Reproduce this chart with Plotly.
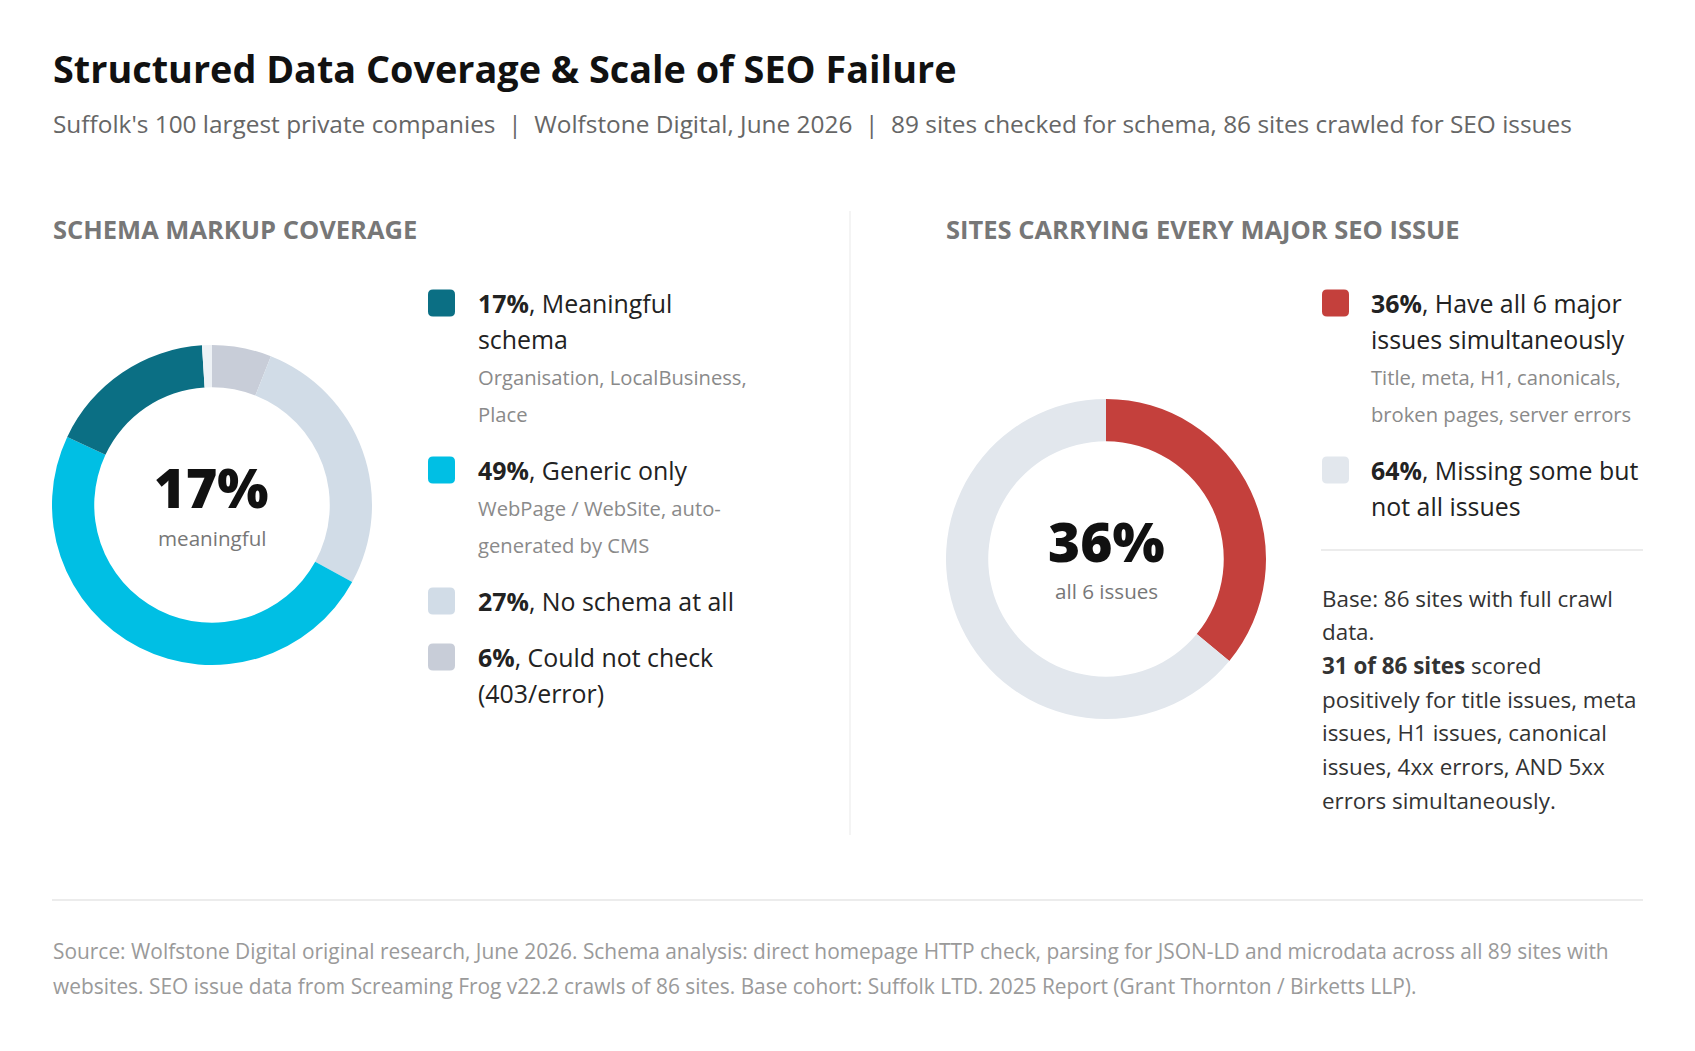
import plotly.graph_objects as go

# --- data -------------------------------------------------------------
title = "Structured Data Coverage & Scale of SEO Failure"
subtitle = ("Suffolk's 100 largest private companies  |  Wolfstone Digital, June 2026"
            "  |  89 sites checked for schema, 86 sites crawled for SEO issues")

schema_header = "SCHEMA MARKUP COVERAGE"
schema_pct = [17, 49, 27, 6]
schema_lines = [["Meaningful", "schema"], ["Generic only"], ["No schema at all"],
                ["Could not check", "(403/error)"]]
schema_notes = [["Organisation, LocalBusiness,", "Place"],
                ["WebPage / WebSite, auto-", "generated by CMS"], [], []]
schema_colors = ["#0b6f84", "#00bfe4", "#d1dce7", "#c8cdd8"]
schema_center = ["17%", "meaningful"]

seo_header = "SITES CARRYING EVERY MAJOR SEO ISSUE"
seo_pct = [36, 64]
seo_lines = [["Have all 6 major", "issues simultaneously"], ["Missing some but", "not all issues"]]
seo_notes = [["Title, meta, H1, canonicals,", "broken pages, server errors"], []]
seo_colors = ["#c4403c", "#e2e7ed"]
seo_center = ["36%", "all 6 issues"]

base_note = ["Base: 86 sites with full crawl", "data.", "<b>31 of 86 sites</b> scored",
             "positively for title issues, meta", "issues, H1 issues, canonical",
             "issues, 4xx errors, AND 5xx", "errors simultaneously."]

source = ["Source: Wolfstone Digital original research, June 2026. Schema analysis: direct homepage "
          "HTTP check, parsing for JSON-LD and microdata across all 89 sites with",
          "websites. SEO issue data from Screaming Frog v22.2 crawls of 86 sites. Base cohort: "
          "Suffolk LTD. 2025 Report (Grant Thornton / Birketts LLP)."]

# --- page geometry (pixels in the 1695x1051 window) -------------------
OFF = 8
W, H = 1695 - 2 * OFF, 1051 - 2 * OFF
FONT = "Open Sans"


def px(x):
    return (x - OFF) / W


def py(y):
    return 1 - (y - OFF) / H


annotations = []
shapes = []


def text(x, y, s, size, color, bold=False, anchor="left", weight=None):
    if bold:
        s = f"<b>{s}</b>"
    font = dict(family=FONT, size=size, color=color)
    if weight:
        font["weight"] = weight
    annotations.append(dict(x=px(x), y=py(y), xref="paper", yref="paper", text=s,
                            showarrow=False, xanchor=anchor, yanchor="middle", font=font))


def line(x0, y0, x1, y1, color, width=1):
    shapes.append(dict(type="line", xref="paper", yref="paper", x0=px(x0), y0=py(y0),
                       x1=px(x1), y1=py(y1), line=dict(color=color, width=width)))


def rounded_square(x, y, size, r, color):
    x0, x1, y0, y1 = px(x), px(x + size), py(y), py(y + size)
    rx, ry = r / W, r / H
    path = (f"M{x0 + rx},{y0} L{x1 - rx},{y0} Q{x1},{y0} {x1},{y0 - ry} "
            f"L{x1},{y1 + ry} Q{x1},{y1} {x1 - rx},{y1} L{x0 + rx},{y1} "
            f"Q{x0},{y1} {x0},{y1 + ry} L{x0},{y0 - ry} Q{x0},{y0} {x0 + rx},{y0} Z")
    shapes.append(dict(type="path", xref="paper", yref="paper", path=path,
                       fillcolor=color, line=dict(width=0)))


def legend(x_sq, x_txt, y, pcts, lines, notes, colors):
    for pct, ls, ns, c in zip(pcts, lines, notes, colors):
        rounded_square(x_sq, y - 13.5, 27, 5, c)
        for i, l in enumerate(ls):
            s = f"<b>{pct}%</b>, {l}" if i == 0 else l
            text(x_txt, y, s, 24.9, "#222222")
            if i < len(ls) - 1:
                y += 36
        for n in ns:
            y += 37.5
            text(x_txt, y, n, 20.2, "#8a8a8a")
        y += 56


fig = go.Figure()

# left donut
fig.add_trace(go.Pie(
    values=schema_pct[::-1] + [100 - sum(schema_pct)],
    marker=dict(colors=schema_colors[::-1] + ["#eef2f6"], line=dict(width=0)),
    hole=0.736, sort=False, direction="clockwise", textinfo="none",
    hoverinfo="skip", showlegend=False,
    domain=dict(x=[px(52), px(372)], y=[py(665), py(345)])
))

# right donut
fig.add_trace(go.Pie(
    values=seo_pct,
    marker=dict(colors=seo_colors, line=dict(width=0)),
    hole=0.736, sort=False, direction="clockwise", textinfo="none",
    hoverinfo="skip", showlegend=False,
    domain=dict(x=[px(946), px(1266)], y=[py(719), py(399)])
))

# headings
text(51, 68, title, 37.8, "#111111", bold=True)
text(51, 123, subtitle, 24.4, "#666666")
text(51, 229, schema_header, 25.5, "#777777", bold=True)
text(944, 229, seo_header, 25.5, "#777777", bold=True)

# donut centres
text(211, 487, schema_center[0], 54, "#111111", anchor="center", weight=800)
text(212, 538, schema_center[1], 20.6, "#777777", anchor="center")
text(1106, 540, seo_center[0], 55, "#111111", anchor="center", weight=800)
text(1106, 591, seo_center[1], 20.6, "#777777", anchor="center")

# legends
legend(428, 476, 303, schema_pct, schema_lines, schema_notes, schema_colors)
legend(1322, 1369, 303, seo_pct, seo_lines, seo_notes, seo_colors)

# base note
for i, s in enumerate(base_note):
    text(1320, 598 + i * 33.7, s, 22.4, "#333333")

# separators
line(850, 211, 850, 835, "#e9e9e9", 1)
line(1321, 550, 1643, 550, "#e6e6e6", 1.5)
line(52, 900, 1643, 900, "#ececec", 2)

# source
for i, s in enumerate(source):
    text(51, 951 + i * 35, s, 20.9, "#9a9a9a")

fig.update_layout(
    width=W, height=H,
    margin=dict(l=0, r=0, t=0, b=0),
    paper_bgcolor="white", plot_bgcolor="white",
    annotations=annotations, shapes=shapes,
    font=dict(family=FONT)
)

fig.write_html("out.html")
